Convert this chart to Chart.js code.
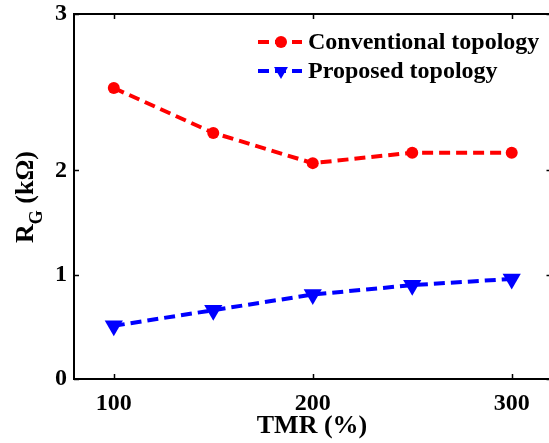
<!DOCTYPE html>
<html>
<head>
<meta charset="utf-8">
<script src="https://cdn.jsdelivr.net/npm/chart.js@4.4.1/dist/chart.umd.min.js"></script>
<style>
  html, body { margin: 0; padding: 0; background: #fff; overflow: hidden; }
  #wrap { width: 562px; height: 443px; position: relative; }
</style>
</head>
<body>
<div id="wrap"><canvas id="rgChart"></canvas></div>
<script>
// ── DATA ─────────────────────────────────────────────
const TMR = [100, 150, 200, 250, 300];                  // TMR (%)
const CONVENTIONAL = [2.79, 2.36, 2.07, 2.17, 2.17];    // R_G (kΩ)
const PROPOSED = [0.51, 0.66, 0.81, 0.90, 0.96];        // R_G (kΩ)
const X_TICKS = [100, 200, 300];
const Y_TICK_VALUES = [0, 1, 2, 3.5];
const Y_TICK_LABELS = ['0', '1', '2', '3'];

const SERIF = '"Liberation Serif", "Times New Roman", serif';

// ── PLUGINS ──────────────────────────────────────────
// frame with inward tick marks on all four sides
const framePlugin = {
  id: 'frame',
  afterDraw(chart) {
    const { ctx, chartArea: a, scales } = chart;
    ctx.save();
    ctx.strokeStyle = '#000';
    ctx.lineWidth = 2;
    ctx.strokeRect(a.left, a.top, a.right - a.left, a.bottom - a.top);
    ctx.lineWidth = 1.5;
    const len = 5;
    X_TICKS.forEach(v => {
      const x = Math.round(scales.x.getPixelForValue(v)) + 0.5;
      ctx.beginPath();
      ctx.moveTo(x, a.bottom); ctx.lineTo(x, a.bottom - len);
      ctx.moveTo(x, a.top); ctx.lineTo(x, a.top + len);
      ctx.stroke();
    });
    Y_TICK_VALUES.forEach(v => {
      const y = Math.round(scales.y.getPixelForValue(v)) + 0.5;
      ctx.beginPath();
      ctx.moveTo(a.left, y); ctx.lineTo(a.left + len, y);
      ctx.moveTo(a.right, y); ctx.lineTo(a.right - len, y);
      ctx.stroke();
    });
    ctx.restore();
  }
};

// axis titles (y title needs a subscript)
const titlesPlugin = {
  id: 'titles',
  afterDraw(chart) {
    const { ctx } = chart;
    ctx.save();
    ctx.fillStyle = '#000';
    ctx.textBaseline = 'alphabetic';
    ctx.textAlign = 'center';
    ctx.font = 'bold 26px ' + SERIF;
    ctx.fillText('TMR (%)', 312, 433);

    ctx.translate(33, 243);
    ctx.rotate(-Math.PI / 2);
    ctx.textAlign = 'left';
    ctx.font = 'bold 26px ' + SERIF;
    ctx.fillText('R', 0, 0);
    let w = ctx.measureText('R').width;
    ctx.font = 'bold 18px ' + SERIF;
    ctx.fillText('G', w, 9);
    w += ctx.measureText('G').width;
    ctx.font = 'bold 26px ' + SERIF;
    ctx.fillText(' (kΩ)', w, 0);
    ctx.restore();
  }
};

// legend: dashed line with marker, then label
const legendRows = [42, 71];
const legendRadius = [6, 8];
const legendPlugin = {
  id: 'lineLegend',
  afterDraw(chart) {
    const { ctx } = chart;
    ctx.save();
    chart.data.datasets.forEach((ds, i) => {
      const y = legendRows[i];
      ctx.strokeStyle = ds.borderColor;
      ctx.fillStyle = ds.borderColor;
      ctx.lineWidth = ds.borderWidth;
      ctx.setLineDash(ds.borderDash);
      ctx.beginPath();
      ctx.moveTo(258, y); ctx.lineTo(302, y);
      ctx.stroke();
      ctx.setLineDash([]);
      Chart.helpers.drawPoint(ctx, {
        pointStyle: ds.pointStyle,
        radius: legendRadius[i],
        rotation: ds.pointRotation || 0,
        borderWidth: 0
      }, 281, y);
      ctx.fillStyle = '#000';
      ctx.font = 'bold 24px ' + SERIF;
      ctx.textAlign = 'left';
      ctx.textBaseline = 'middle';
      ctx.fillText(ds.label, 308, y + 1);
    });
    ctx.restore();
  }
};

// drop the label overhang padding so the plot box sits where the layout says
function noOverhang(s) {
  s.paddingTop = 0; s.paddingBottom = 0;
  s.paddingLeft = 0; s.paddingRight = 0;
}

// ── CHART ────────────────────────────────────────────
new Chart(document.getElementById('rgChart'), {
  type: 'line',
  data: {
    datasets: [
      {
        label: 'Conventional topology',
        data: TMR.map((x, i) => ({ x, y: CONVENTIONAL[i] })),
        borderColor: '#ff0000',
        backgroundColor: '#ff0000',
        borderWidth: 4,
        borderDash: [11, 6],
        pointStyle: 'circle',
        pointRadius: 6,
        pointBorderWidth: 0,
        tension: 0
      },
      {
        label: 'Proposed topology',
        data: TMR.map((x, i) => ({ x, y: PROPOSED[i] })),
        borderColor: '#0000ff',
        backgroundColor: '#0000ff',
        borderWidth: 4,
        borderDash: [11, 6],
        pointStyle: 'triangle',
        pointRotation: 180,
        pointRadius: 10.5,
        pointBorderWidth: 0,
        tension: 0
      }
    ]
  },
  options: {
    responsive: true,
    maintainAspectRatio: false,
    animation: false,
    layout: { padding: { left: 0, right: 2, top: 14, bottom: 0 } },
    plugins: { legend: { display: false }, tooltip: { enabled: false } },
    scales: {
      x: {
        type: 'linear',
        min: 80, max: 320,
        afterBuildTicks: s => { s.ticks = X_TICKS.map(v => ({ value: v })); },
        afterFit: s => { s.height = 64; noOverhang(s); },
        grid: { display: false, drawTicks: false },
        border: { display: false },
        ticks: {
          color: '#000', padding: 10,
          font: { family: SERIF, size: 24, weight: 'bold' }
        }
      },
      y: {
        type: 'linear',
        min: 0, max: 3.5,
        afterBuildTicks: s => { s.ticks = Y_TICK_VALUES.map(v => ({ value: v })); },
        afterFit: s => { s.width = 74; noOverhang(s); },
        grid: { display: false, drawTicks: false },
        border: { display: false },
        ticks: {
          color: '#000', padding: 7,
          font: { family: SERIF, size: 24, weight: 'bold' },
          callback: (v, i) => Y_TICK_LABELS[i]
        }
      }
    }
  },
  plugins: [framePlugin, titlesPlugin, legendPlugin]
});
</script>
</body>
</html>
